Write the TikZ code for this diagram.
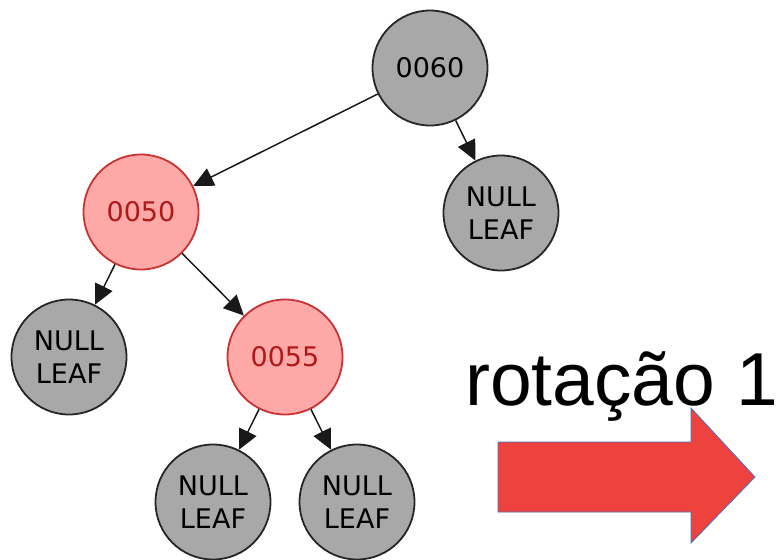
\documentclass[tikz,border=0pt]{standalone}
\usepackage{fontspec}
\setmainfont{DejaVu Sans}
\newfontfamily\bigfont{Liberation Sans}
\usetikzlibrary{arrows.meta}
\definecolor{leafgray}{RGB}{168,168,168}
\definecolor{redfill}{RGB}{255,168,168}
\definecolor{redline}{RGB}{200,50,50}
\definecolor{redtext}{RGB}{175,25,25}
\definecolor{bigred}{RGB}{238,66,62}
\definecolor{bigblue}{RGB}{68,114,196}
\tikzset{
  blknode/.style={circle, draw=black!85, line width=1.8pt, fill=leafgray, minimum size=115pt, inner sep=0pt,
    font=\fontsize{27}{33}\selectfont, text=black, align=center},
  rednode/.style={circle, draw=redline, line width=1.8pt, fill=redfill, minimum size=115pt, inner sep=0pt,
    font=\fontsize{27}{33}\selectfont, text=redtext, align=center},
  edge/.style={line width=1.5pt, draw=black!90, -{Triangle[length=20pt,width=19pt]}},
}
\begin{document}
\begin{tikzpicture}[x=1pt,y=-1pt]
\useasboundingbox (0,0) rectangle (780,560);
\node[blknode] (n60) at (430,68) {0060};
\node[blknode] (nr) at (501,213) {NULL\\LEAF};
\node[rednode] (n50) at (141,212) {0050};
\node[blknode] (nl) at (69,357) {NULL\\LEAF};
\node[rednode] (n55) at (285,357) {0055};
\node[blknode] (nbl) at (213,502) {NULL\\LEAF};
\node[blknode] (nbr) at (357,502) {NULL\\LEAF};
\draw[edge] (n60) -- (n50);
\draw[edge] (n60) -- (nr);
\draw[edge] (n50) -- (nl);
\draw[edge] (n50) -- (n55);
\draw[edge] (n55) -- (nbl);
\draw[edge] (n55) -- (nbr);
\node[anchor=base west, inner sep=0pt, font=\bigfont\fontsize{75}{80}\selectfont] (lbl) at (465,405) {rotação 1};
\draw[fill=bigred, draw=bigblue, line width=0.8pt] (498,442) -- (691,442) -- (691,408) -- (755,477) -- (691,543) -- (691,512) -- (498,512) -- cycle;
\end{tikzpicture}
\end{document}
